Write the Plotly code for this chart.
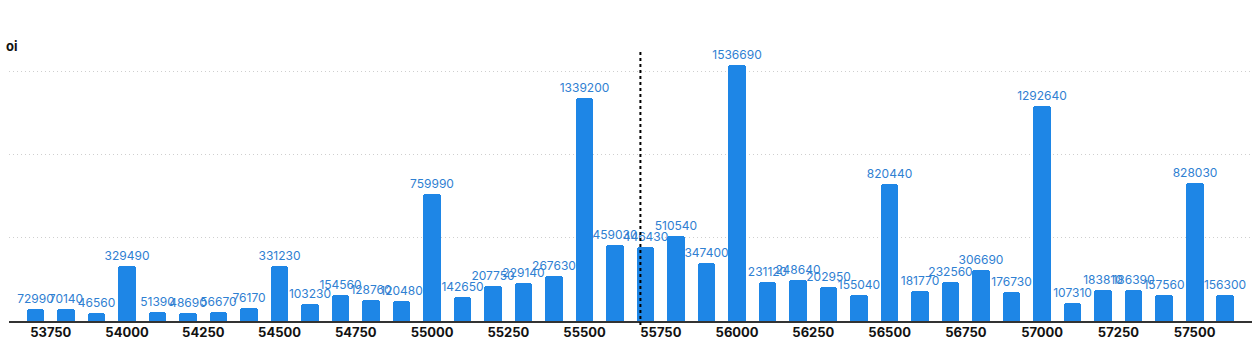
import plotly.graph_objects as go

strikes = [53700 + 100 * i for i in range(40)]
oi = [72990, 70140, 46560, 329490, 51390, 48690, 56670, 76170, 331230, 103230,
      154560, 128760, 120480, 759990, 142650, 207750, 229140, 267630, 1339200, 459030,
      446430, 510540, 347400, 1536690, 231120, 248640, 202950, 155040, 820440, 181770,
      232560, 306690, 176730, 1292640, 107310, 183810, 186390, 157560, 828030, 156300]
tick_vals = [53750 + 250 * i for i in range(16)]
tick_text = [str(v) for v in tick_vals]
spot = 55683

bar_color = "#1e86e6"
text_color = "#2f80d2"

fig = go.Figure()
fig.add_trace(go.Bar(
    x=strikes, y=oi, width=58,
    marker=dict(color=bar_color, cornerradius=3, line=dict(width=0)),
    text=[str(v) for v in oi], textposition="outside", constraintext="none",
    textfont=dict(family="Inter, Noto Sans, sans-serif", size=12, color=text_color),
    cliponaxis=False,
))

fig.add_shape(type="line", xref="x", yref="paper", x0=spot, x1=spot, y0=-0.015, y1=1.0,
              line=dict(color="black", width=2, dash="dot"), layer="above")

fig.add_annotation(text="<b>oi</b>", xref="paper", yref="paper", x=-0.004, y=1.0,
                   xanchor="left", yanchor="middle", yshift=4, showarrow=False,
                   font=dict(family="Inter, Noto Sans, sans-serif", size=13, color="#111"))

fig.update_layout(
    width=1257, height=341,
    margin=dict(l=9, r=5, t=50, b=20, autoexpand=False),
    paper_bgcolor="white", plot_bgcolor="white",
    showlegend=False,
    xaxis=dict(range=[53613, 57688], tickvals=tick_vals, ticktext=tick_text,
               showgrid=False, zeroline=False, showline=True, linecolor="#333", linewidth=2,
               ticks="", ticklabelstandoff=-2, automargin=False,
               tickfont=dict(family="Inter, Noto Sans, sans-serif", size=13, color="#111",
                             weight="bold")),
    yaxis=dict(range=[0, 1626000], tickvals=[500000, 1000000, 1500000], showticklabels=False,
               showgrid=True, gridcolor="#cfcfcf", griddash="1px,3px", gridwidth=1,
               zeroline=False, showline=False, ticks="", automargin=False),
    bargap=0,
)

fig.write_html("out.html")
